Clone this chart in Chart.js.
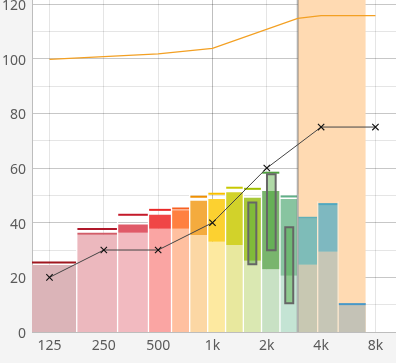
<!DOCTYPE html>
<html><head><meta charset="utf-8">
<script src="https://cdn.jsdelivr.net/npm/chart.js@4/dist/chart.umd.min.js"></script>
<style>html,body{margin:0;padding:0;background:#f4f4f4;overflow:hidden}canvas{display:block}</style>
</head><body><canvas id="c" width="396" height="363"></canvas>
<script>
// ---- data ----
const freqTicks = [125, 250, 500, 1000, 2000, 4000, 8000];
const freqTickLabels = ['125', '250', '500', '1k', '2k', '4k', '8k'];
const yLabelTicks = [0, 20, 40, 60, 80, 100, 120];
const bandEdges = [100, 177, 298, 442, 593, 748, 941, 1182, 1483, 1870, 2366, 2968, 3829, 4970, 7071];
const bandLower = [24.5, 35.6, 36.3, 37.8, 37.8, 35.5, 33.0, 31.8, 26.1, 23.0, 20.6, 24.6, 29.4, 9.9];
const bandUpper = [24.5, 36.3, 39.3, 42.9, 44.6, 48.0, 48.7, 51.1, 49.1, 51.6, 48.7, 41.4, 46.5, 9.9];
const bandPeak  = [25.4, 37.7, 42.9, 44.7, 45.2, 49.5, 50.6, 52.8, 52.4, 58.3, 49.6, 41.8, 46.8, 10.2];
const boxFreqLow  = [1580, 2005, 2531];
const boxFreqHigh = [1750, 2240, 2803];
const boxLow  = [24.8, 29.9, 10.5];
const boxHigh = [47.4, 57.7, 38.3];
const thresholdFreqs  = [125, 250, 500, 1000, 2968, 4000, 8000];
const thresholdLevels = [99.8, 100.8, 101.8, 103.8, 114.8, 115.8, 115.8];
const hearingFreqs  = [125, 250, 500, 1000, 2000, 4000, 8000];
const hearingLevels = [20, 30, 30, 40, 60, 75, 75];
const zoneStart = 2968, zoneEnd = 7071;

// ---- styles ----
const lowerColors = ['rgb(219,180,184)','rgb(236,184,190)','rgb(242,186,192)','rgb(250,165,163)','rgb(255,192,160)','rgb(252,215,164)','rgb(253,233,160)','rgb(232,232,158)','rgb(218,232,178)','rgb(200,225,196)','rgb(196,228,212)','rgb(200,200,178)','rgb(198,198,182)','rgb(196,194,182)'];
const upperColors = ['rgb(219,180,184)','rgb(210,92,104)','rgb(224,90,104)','rgb(240,70,70)','rgb(255,128,64)','rgb(244,171,62)','rgb(252,209,48)','rgb(210,210,42)','rgb(168,200,58)','rgb(121,181,109)','rgb(136,196,160)','rgb(126,188,184)','rgb(126,184,192)','rgb(196,194,182)'];
const peakColors = ['rgb(160,22,30)','rgb(176,24,42)','rgb(196,26,42)','rgb(232,40,40)','rgb(248,96,32)','rgb(240,144,0)','rgb(248,192,0)','rgb(200,200,0)','rgb(160,192,0)','rgb(80,160,64)','rgb(96,176,136)','rgb(96,176,184)','rgb(80,168,192)','rgb(72,152,200)'];
const yMax = 121.5;
const NONE = 'rgba(0,0,0,0)';

const datasets = [];
datasets.push({data: [{x: zoneStart, y: yMax}, {x: zoneEnd, y: yMax}], fill: 'origin',
  backgroundColor: 'rgb(255,218,178)', borderColor: NONE, borderWidth: 0, pointRadius: 0, order: 100});
for (let i = 0; i < bandLower.length; i++) {
  const x0 = bandEdges[i], x1 = bandEdges[i + 1];
  datasets.push({data: [{x: x0, y: bandLower[i]}, {x: x1, y: bandLower[i]}], fill: 'origin',
    backgroundColor: lowerColors[i], borderColor: NONE, borderWidth: 0, pointRadius: 0, order: 90});
  if (bandUpper[i] > bandLower[i]) {
    datasets.push({data: [{x: x0, y: bandUpper[i]}, {x: x1, y: bandUpper[i]}], fill: {value: bandLower[i]},
      backgroundColor: upperColors[i], borderColor: NONE, borderWidth: 0, pointRadius: 0, order: 89});
  }
  datasets.push({data: [{x: x0, y: bandPeak[i]}, {x: x1, y: bandPeak[i]}], fill: false,
    borderColor: peakColors[i], borderWidth: 2, pointRadius: 0, order: 85});
}
const sepOut = [], sepIn = [];
for (let i = 1; i < bandLower.length; i++) {
  const e = bandEdges[i];
  const h = Math.max(bandPeak[i - 1], bandPeak[i]) + 1;
  const arr = (e > zoneStart && e < zoneEnd) ? sepIn : sepOut;
  arr.push({x: e, y: 0}, {x: e, y: h}, {x: e, y: null});
}
datasets.push({data: sepOut, fill: false, borderColor: '#ffffff', borderWidth: 1.3, pointRadius: 0, spanGaps: false, order: 80});
datasets.push({data: sepIn, fill: false, borderColor: 'rgb(252,232,208)', borderWidth: 1.3, pointRadius: 0, spanGaps: false, order: 80});
for (let i = 0; i < boxLow.length; i++) {
  const a = boxFreqLow[i], b = boxFreqHigh[i];
  datasets.push({data: [{x: a, y: boxHigh[i]}, {x: b, y: boxHigh[i]}], fill: {value: boxLow[i]},
    backgroundColor: 'rgba(80,170,60,0.45)', borderColor: NONE, borderWidth: 0, pointRadius: 0, order: 60});
  datasets.push({data: [{x: a, y: boxLow[i]}, {x: a, y: boxHigh[i]}, {x: b, y: boxHigh[i]}, {x: b, y: boxLow[i]}, {x: a, y: boxLow[i]}],
    fill: false, borderColor: '#666666', borderWidth: 2, borderCapStyle: 'square', borderJoinStyle: 'miter', pointRadius: 0, order: 59});
}
datasets.push({data: [{x: zoneStart, y: 0}, {x: zoneStart, y: yMax}], fill: false,
  borderColor: 'rgba(100,100,100,0.5)', borderWidth: 2, pointRadius: 0, order: 50});
datasets.push({data: thresholdFreqs.map((f, i) => ({x: f, y: thresholdLevels[i]})), fill: false,
  borderColor: 'rgb(243,160,35)', borderWidth: 1.3, pointRadius: 0, order: 20});
datasets.push({data: hearingFreqs.map((f, i) => ({x: f, y: hearingLevels[i]})), fill: false,
  borderColor: '#444444', borderWidth: 1, pointStyle: 'crossRot', pointRadius: 4.5,
  pointBorderColor: '#111111', pointBorderWidth: 1.1, pointBackgroundColor: NONE, order: 10});

const plotBg = {
  id: 'plotBg',
  beforeDraw(chart) {
    const a = chart.chartArea, c = chart.ctx;
    c.save(); c.fillStyle = '#ffffff'; c.fillRect(a.left, a.top, a.right - a.left, a.bottom - a.top); c.restore();
  }
};
const noPad = s => { s._calculatePadding = function () { this.paddingLeft = 0; this.paddingRight = 0; this.paddingTop = 0; this.paddingBottom = 0; }; };

const tickFont = {family: 'Noto Sans', size: 14};
new Chart(document.getElementById('c'), {
  type: 'line',
  data: {datasets},
  plugins: [plotBg],
  options: {
    responsive: false, animation: false, devicePixelRatio: 1,
    layout: {padding: 0, autoPadding: false},
    plugins: {legend: {display: false}, tooltip: {enabled: false}},
    elements: {line: {tension: 0}},
    scales: {
      x: {
        type: 'logarithmic', min: 100, max: 10400, z: 1,
        beforeFit: noPad,
        afterBuildTicks: s => { s.ticks = freqTicks.map(v => ({value: v})); },
        afterFit: s => { s.height = 31; },
        ticks: {autoSkip: false, maxRotation: 0, padding: 6, color: '#5a5a5a', font: tickFont,
          callback: v => { const k = freqTicks.indexOf(v); return k >= 0 ? freqTickLabels[k] : ''; }},
        grid: {drawTicks: false, color: c => (c.tick && c.tick.value === 1000) ? 'rgba(0,0,0,0.25)' : 'rgba(0,0,0,0.1)'},
        border: {color: '#bdbdbd'}
      },
      y: {
        type: 'linear', min: 0, max: yMax, z: 1,
        beforeFit: noPad,
        afterBuildTicks: s => { const t = []; for (let v = 0; v <= 120; v += 10) t.push({value: v}); s.ticks = t; },
        afterFit: s => { s.width = 32; },
        ticks: {padding: 6, labelOffset: 2, color: '#5a5a5a', font: tickFont,
          callback: v => yLabelTicks.includes(v) ? String(v) : ''},
        grid: {drawTicks: false, color: c => (c.tick && yLabelTicks.includes(c.tick.value)) ? 'rgba(0,0,0,0.22)' : 'rgba(0,0,0,0.1)'},
        border: {color: '#bdbdbd'}
      }
    }
  }
});
</script>
</body></html>
